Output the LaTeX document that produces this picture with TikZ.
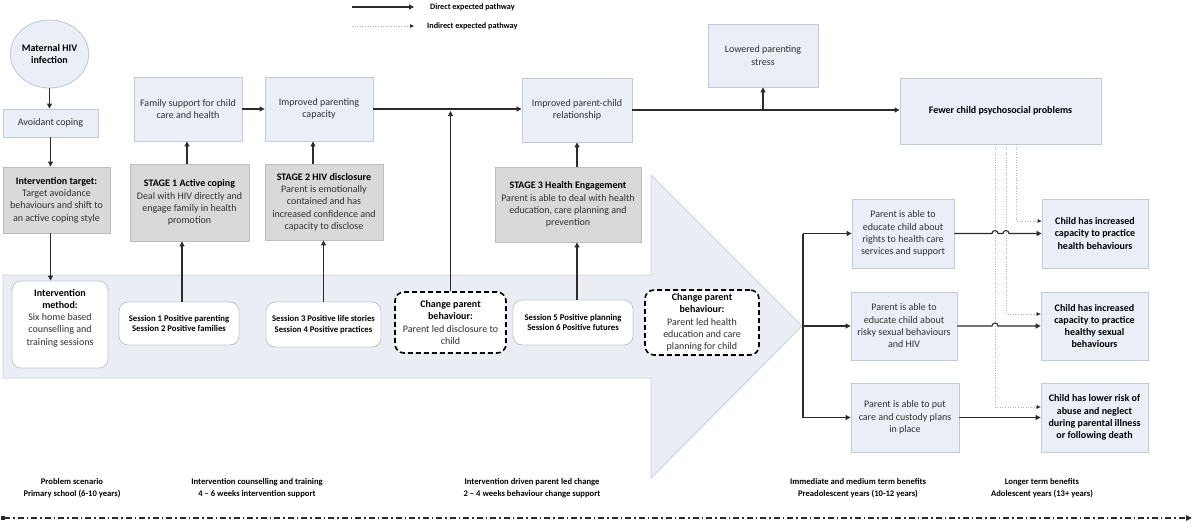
\documentclass[tikz,border=0pt]{standalone}
\usepackage{fontspec}
\setmainfont{Carlito}
\usetikzlibrary{arrows.meta,shapes.geometric}
\definecolor{lblue}{HTML}{E9EEF7}
\definecolor{bordc}{HTML}{C4CAD3}
\definecolor{gfill}{HTML}{D9D9D9}
\definecolor{gbord}{HTML}{BDBDBD}
\definecolor{arrfill}{HTML}{EAEEF4}
\definecolor{arrbord}{HTML}{CCD2DA}
\definecolor{txt}{HTML}{303030}
\definecolor{arrc}{HTML}{2B2B2B}
\definecolor{dotc}{HTML}{B5B5B5}
\newcommand\fsA{\fontsize{10}{12.3}\selectfont}
\newcommand\fsB{\fontsize{8.7}{10.8}\selectfont}
\newcommand\fsC{\fontsize{8.6}{12}\selectfont}
\newcommand\fsD{\fontsize{8.2}{9}\selectfont}
\tikzset{
  lb/.style={draw=bordc, fill=lblue, line width=0.9pt, inner sep=1pt, align=center, font=\fsA, text=txt},
  gb/.style={draw=gbord, fill=gfill, line width=0.9pt, inner sep=1pt, align=center, font=\fsA, text=txt},
  rb/.style={draw=bordc, fill=white, line width=0.9pt, rounded corners=9pt, inner sep=1pt, align=center, font=\fsB\bfseries, text=black},
  db/.style={draw=black, fill=white, line width=1.6pt, dash pattern=on 5pt off 3pt, rounded corners=9pt, inner sep=1pt, align=center, font=\fsA, text=txt},
  arr/.style={line width=1.1pt, draw=arrc, -{Triangle[length=5pt,width=5pt]}},
  ln/.style={line width=1.1pt, draw=arrc},
  darr/.style={line width=0.6pt, draw=dotc, dotted, -{Triangle[length=4pt,width=3.5pt,color=arrc]}},
  lab/.style={align=center, font=\fsC\bfseries, text=black, inner sep=0pt},
}
\newcommand\hd[1]{\textbf{\textcolor{black}{#1}}}
\begin{document}
\begin{tikzpicture}[x=1pt,y=-1pt]
\useasboundingbox (0,0) rectangle (1193,522);
% big arrow
\draw[fill=arrfill, draw=arrbord, line width=0.9pt] (3,275) -- (651,275) -- (651,175) -- (802,326) -- (651,478) -- (651,378) -- (3,378) -- cycle;
% legend
\coordinate (l1a) at (352,7); \coordinate (l1b) at (414,7);
\coordinate (l2a) at (352,26); \coordinate (l2b) at (414,26);
\draw[arr] (l1a) -- (l1b);
\draw[darr] (l2a) -- (l2b);
\node[anchor=west, font=\fsD\bfseries, inner sep=0pt] (leg1) at (430,7) {Direct expected pathway};
\node[anchor=west, font=\fsD\bfseries, inner sep=0pt] (leg2) at (427,26) {Indirect expected pathway};
% left column
\node[ellipse, draw=bordc, fill=lblue, line width=0.9pt, minimum width=74pt, minimum height=68pt, inner sep=0pt, align=center, font=\fsA\bfseries] (mat) at (49.5,54) {Maternal HIV\\infection};
\node[lb, minimum width=95pt, minimum height=28pt] (avoid) at (50.5,123) {Avoidant coping};
\node[gb, minimum width=107pt, minimum height=66pt] (target) at (56.5,200) {\hd{Intervention target:}\\Target avoidance\\behaviours and shift to\\an active coping style};
% upper row
\node[lb, minimum width=108pt, minimum height=64pt] (family) at (188,109) {Family support for child\\care and health};
\node[lb, minimum width=108pt, minimum height=64pt] (capacity) at (319,109) {Improved parenting\\capacity};
\node[lb, minimum width=110pt, minimum height=64pt] (pcrel) at (577,110) {Improved parent-child\\relationship};
\node[lb, minimum width=110pt, minimum height=63pt] (stress) at (763,55.5) {Lowered parenting\\stress};
\node[lb, minimum width=201pt, minimum height=66pt, font=\fsA\bfseries, text=black] (fewer) at (1000.5,111) {Fewer child psychosocial problems};
% stages
\node[gb, minimum width=119pt, minimum height=77pt] (st1) at (189.5,202.5) {\hd{STAGE 1 Active coping}\\Deal with HIV directly and\\engage family in health\\promotion};
\node[gb, minimum width=118pt, minimum height=76pt] (st2) at (324,202) {\hd{STAGE 2 HIV disclosure}\\Parent is emotionally\\contained and has\\increased confidence and\\capacity to disclose};
\node[gb, minimum width=146pt, minimum height=75pt] (st3) at (568,204.5) {\hd{STAGE 3 Health Engagement}\\Parent is able to deal with health\\education, care planning and\\prevention};
% inside arrow
\node[rb, minimum width=96pt, minimum height=87pt] (method) at (60,324.5) {};
\node[align=center, font=\fsA, text=txt, inner sep=0pt] (methodtxt) at (60,318) {\hd{Intervention}\\\hd{method:}\\Six home based\\counselling and\\training sessions};
\node[rb, minimum width=120pt, minimum height=43pt] (s12) at (179,323.5) {Session 1 Positive parenting\\Session 2 Positive families};
\node[rb, minimum width=115pt, minimum height=45pt] (s34) at (323.5,324.5) {Session 3 Positive life stories\\Session 4 Positive practices};
\node[db, minimum width=111pt, minimum height=61pt] (ch1) at (450.5,322.5) {\hd{Change parent}\\\hd{behaviour:}\\Parent led disclosure to\\child};
\node[rb, minimum width=120pt, minimum height=45pt] (s56) at (573,322.5) {Session 5 Positive planning\\Session 6 Positive futures};
\node[db, minimum width=114pt, minimum height=65pt] (ch2) at (702,322.5) {\hd{Change parent}\\\hd{behaviour:}\\Parent led health\\education and care\\planning for child};
% right boxes
\node[lb, minimum width=102pt, minimum height=69pt] (p1) at (903,233.5) {Parent is able to\\educate child about\\rights to health care\\services and support};
\node[lb, minimum width=106pt, minimum height=68pt] (p2) at (904,326) {Parent is able to\\educate child about\\risky sexual behaviours\\and HIV};
\node[lb, minimum width=108pt, minimum height=69pt] (p3) at (905,417.5) {Parent is able to put\\care and custody plans\\in place};
\node[lb, minimum width=106pt, minimum height=69pt, font=\fsA\bfseries, text=black] (c1) at (1095,233.5) {Child has increased\\capacity to practice\\health behaviours};
\node[lb, minimum width=107pt, minimum height=68pt, font=\fsA\bfseries, text=black] (c2) at (1094.5,326) {Child has increased\\capacity to practice\\healthy sexual\\behaviours};
\node[lb, minimum width=107pt, minimum height=69pt, font=\fsA\bfseries, text=black] (c3) at (1094.5,417.5) {Child has lower risk of\\abuse and neglect\\during parental illness\\or following death};
% connectors left
\coordinate (m0) at (mat.south);
\draw[arr] (m0) -- (m0 |- avoid.north);
\draw[arr] (avoid.south) -- (target.north -| avoid.south);
\draw[arr] (target.south -| avoid.south) -- (method.north -| avoid.south);
% stage connectors
\draw[arr] ([xshift=3pt]s12.north) -- ([xshift=3pt]s12.north |- st1.south);
\draw[arr] ([xshift=-2.5pt]st1.north) -- ([xshift=-2.5pt]st1.north |- family.south);
\draw[arr] (s34.north) -- (s34.north |- st2.south);
\draw[arr] ([xshift=-11pt]st2.north) -- ([xshift=-11pt]st2.north |- capacity.south);
\draw[arr] ([xshift=4pt]s56.north) -- ([xshift=4pt]s56.north |- st3.south);
\draw[arr] ([xshift=9pt]st3.north) -- ([xshift=9pt]st3.north |- pcrel.south);
% main line
\draw[arr] (family.east) -- (capacity.west);
\draw[arr] (capacity.east) -- (capacity.east -| pcrel.west);
\coordinate (j1) at (ch1.north |- capacity.east);
\draw[arr] (ch1.north) -- ([yshift=-2pt]j1);
\draw[arr] (pcrel.east) -- (pcrel.east -| fewer.west);
\coordinate (j2) at (stress.south |- pcrel.east);
\draw[arr] (j2) -- (stress.south);
% branch
\coordinate (tip) at (802,326);
\coordinate (bt) at (803,233.5);
\coordinate (bb) at (803,417.5);
\draw[ln] (bt) -- (bb);
\draw[arr] (bt) -- (p1.west);
\draw[arr] (tip) -- (p2.west);
\draw[arr] (bb) -- (p3.west);
% dotted indirect
\coordinate (d1) at (1016,144);
\coordinate (d2) at (1006,144);
\coordinate (d3) at (995,144);
\draw[darr] (d1) -- (1016,221) -- (1016,221 -| c1.west);
\draw[darr] (d2) -- (1006,314) -- (1006,314 -| c2.west);
\draw[darr] (d3) -- (995,407) -- (995,407 -| c3.west);
% parent to child with hops
\draw[arr] (p1.east) -- (992,233.5) arc[start angle=180,end angle=0,radius=3pt] -- (1003,233.5) arc[start angle=180,end angle=0,radius=3pt] -- (c1.west);
\draw[arr] (p2.east) -- (992,326) arc[start angle=180,end angle=0,radius=3pt] -- (c2.west);
\draw[arr] (p3.east) -- (c3.west);
% bottom labels
\node[lab] (b1) at (72,488) {Problem scenario\\Primary school (6-10 years)};
\node[lab] (b2) at (257,488) {Intervention counselling and training\\4 -- 6 weeks intervention support};
\node[lab] (b3) at (532,488) {Intervention driven parent led change\\2 -- 4 weeks behaviour change support};
\node[lab] (b4) at (858,488) {Immediate and medium term benefits\\Preadolescent years (10-12 years)};
\node[lab] (b5) at (1042,488) {Longer term benefits\\Adolescent years (13+ years)};
% timeline
\coordinate (t0) at (1,518);
\coordinate (t1) at (1192,518);
\draw[line width=1.1pt, draw=arrc, dash pattern=on 6pt off 3pt on 1.5pt off 3pt, {Square[length=4pt,width=4pt]}-{Triangle[length=6pt,width=5.5pt]}] (t0) -- (t1);
\end{tikzpicture}
\end{document}
